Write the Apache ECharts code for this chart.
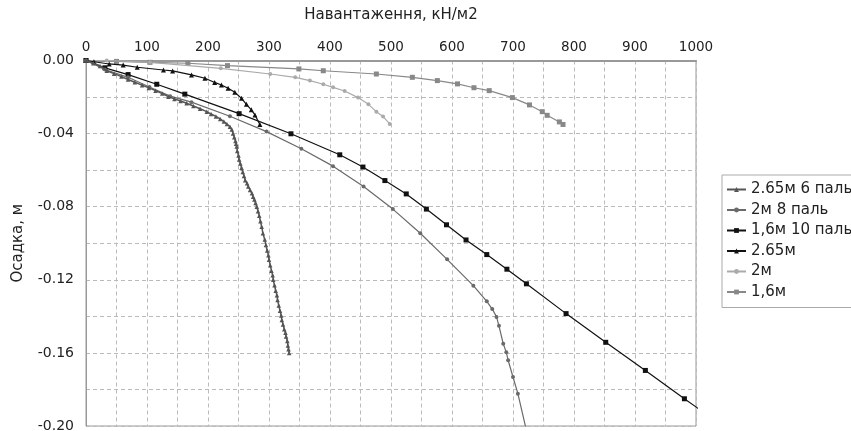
<!DOCTYPE html>
<html>
<head>
<meta charset="utf-8">
<script src="https://cdn.jsdelivr.net/npm/echarts@6/dist/echarts.min.js"></script>
<style>html,body{margin:0;padding:0;background:#fff;}#c{width:851px;height:431px;}</style>
</head>
<body>
<div id="c"></div>
<script>
const seriesNames = ['2.65м 6 паль', '2м 8 паль', '1,6м 10 паль', '2.65м', '2м', '1,6м'];
const xTitle = 'Навантаження, кН/м2';
const yTitle = 'Осадка, м';

const s265x6 = [[0,0],[12,-0.0015],[23,-0.003],[34,-0.0056],[46,-0.0072],[58,-0.0088],[69,-0.0104],[80,-0.0119],[92,-0.0135],[103,-0.015],[114,-0.0165],[125,-0.0181],[135,-0.0198],[145,-0.021],[155,-0.0222],[165,-0.0234],[176,-0.0249],[187,-0.0264],[198,-0.028],[205,-0.0293],[213,-0.0306],[220,-0.032],[226,-0.0334],[231,-0.0348],[236,-0.0362],[239,-0.0378],[241,-0.040],[243,-0.042],[245,-0.044],[246,-0.0455],[247,-0.047],[248,-0.0495],[250,-0.052],[251,-0.0542],[253,-0.0564],[255,-0.0587],[257,-0.061],[259,-0.0632],[261,-0.0655],[264,-0.0672],[266,-0.069],[269,-0.0708],[272,-0.0727],[274,-0.0745],[276,-0.076],[278,-0.078],[280,-0.080],[282,-0.0825],[284,-0.085],[286,-0.088],[288,-0.091],[290,-0.0945],[293,-0.098],[295,-0.101],[297,-0.104],[299,-0.1065],[300,-0.109],[302,-0.112],[304,-0.115],[306,-0.1175],[307,-0.120],[309,-0.123],[311,-0.126],[313,-0.1285],[314,-0.131],[316,-0.134],[318,-0.137],[320,-0.1395],[321,-0.142],[323,-0.1445],[325,-0.147],[327,-0.149],[328,-0.151],[330,-0.1535],[331,-0.156],[332,-0.158],[333,-0.160]];
const s2x8 = [[0,0],[31,-0.0049],[69,-0.0092],[104,-0.0145],[138,-0.0195],[173,-0.0228],[236,-0.0305],[296,-0.0389],[353,-0.0483],[405,-0.0578],[455,-0.069],[503,-0.0813],[548,-0.0945],[592,-0.1088],[635,-0.1232],[657,-0.1318],[666,-0.136],[673,-0.1403],[677,-0.1452],[684,-0.155],[689,-0.1597],[692,-0.164],[700,-0.1732],[708,-0.1823],[721,-0.201]];
const s16x10 = [[0,0],[31,-0.004],[69,-0.0077],[116,-0.013],[162,-0.0184],[251,-0.0291],[336,-0.0401],[416,-0.0516],[454,-0.0583],[490,-0.0657],[525,-0.073],[558,-0.0813],[591,-0.0899],[623,-0.0982],[657,-0.1062],[690,-0.1142],[722,-0.1222],[787,-0.1385],[852,-0.1542],[917,-0.1696],[981,-0.1851],[1006,-0.191]];
const s265 = [[0,0],[13,-0.0007],[38,-0.0019],[61,-0.0025],[84,-0.0037],[127,-0.0052],[142,-0.0057],[173,-0.0079],[195,-0.0097],[211,-0.012],[222,-0.0134],[233,-0.0152],[244,-0.0174],[255,-0.0207],[263,-0.024],[271,-0.027],[277,-0.0298],[285,-0.035]];
const s2 = [[0,0],[34,0],[105,-0.001],[221,-0.0043],[302,-0.0074],[343,-0.0092],[367,-0.011],[389,-0.013],[405,-0.0147],[424,-0.0167],[446,-0.0203],[463,-0.024],[476,-0.028],[487,-0.0307],[498,-0.0347]];
const s16 = [[0,0],[50,-0.0005],[105,-0.001],[167,-0.0015],[232,-0.0028],[349,-0.0046],[389,-0.0056],[476,-0.0074],[535,-0.0092],[576,-0.011],[609,-0.0128],[636,-0.0149],[661,-0.0165],[699,-0.0203],[727,-0.0243],[748,-0.028],[756,-0.030],[776,-0.0336],[782,-0.035]];

const seriesData = [s265x6, s2x8, s16x10, s265, s2, s16];
const colors = ['#555555', '#6a6a6a', '#111111', '#111111', '#aaaaaa', '#888888'];
const symbols = ['triangle', 'circle', 'rect', 'triangle', 'circle', 'rect'];
const symSizes = [4.5, 4, 5, 5, 4, 5];
const lineWidths = [1.5, 1.2, 1.2, 1.2, 1.2, 1.2];

const font = 'DejaVu Sans, sans-serif';
const chart = echarts.init(document.getElementById('c'), null, {renderer: 'canvas'});
chart.setOption({
  animation: false,
  backgroundColor: '#fff',
  grid: {left: 86, right: 155, top: 60.5, bottom: 5, show: true, borderColor: '#999', borderWidth: 1,
         containLabel: false, outerBoundsMode: 'none'},
  legend: {
    orient: 'vertical', left: 722, top: 175,
    itemWidth: 19, itemHeight: 6, itemGap: 5.5,
    borderColor: '#aaa', borderWidth: 1, padding: [7, 10, 8, 4],
    textStyle: {fontFamily: font, fontSize: 15, color: '#222'},
    data: seriesNames
  },
  xAxis: {
    type: 'value', position: 'top', min: 0, max: 1000, interval: 50,
    name: xTitle, nameLocation: 'middle', nameGap: 38,
    nameTextStyle: {fontFamily: font, fontSize: 15, color: '#222'},
    axisLine: {show: true, onZero: false, lineStyle: {color: '#999', width: 2}},
    axisTick: {show: false},
    axisLabel: {fontFamily: font, fontSize: 13.5, color: '#222', margin: 6,
      formatter: v => (Math.round(v) % 100 === 0 ? String(Math.round(v)) : '')},
    splitLine: {show: true, lineStyle: {color: '#bbb', type: [4, 3], width: 1}}
  },
  yAxis: {
    type: 'value', min: -0.2, max: 0, interval: 0.02,
    name: yTitle, nameLocation: 'middle', nameGap: 60, nameRotate: 90,
    nameTextStyle: {fontFamily: font, fontSize: 15, color: '#222'},
    axisLine: {show: true, onZero: false, lineStyle: {color: '#999', width: 1}},
    axisTick: {show: false},
    axisLabel: {fontFamily: font, fontSize: 14, color: '#222', margin: 12,
      formatter: v => (Math.round(v * 100) % 4 === 0 ? v.toFixed(2) : '')},
    splitLine: {show: true, lineStyle: {color: '#bbb', type: [4, 3], width: 1}}
  },
  series: seriesNames.map((n, i) => ({
    name: n, type: 'line', data: seriesData[i], clip: true,
    symbol: symbols[i], symbolSize: symSizes[i], showSymbol: true,
    lineStyle: {color: colors[i], width: lineWidths[i]},
    itemStyle: {color: colors[i]},
    z: 10 - i
  }))
});
</script>
</body>
</html>
